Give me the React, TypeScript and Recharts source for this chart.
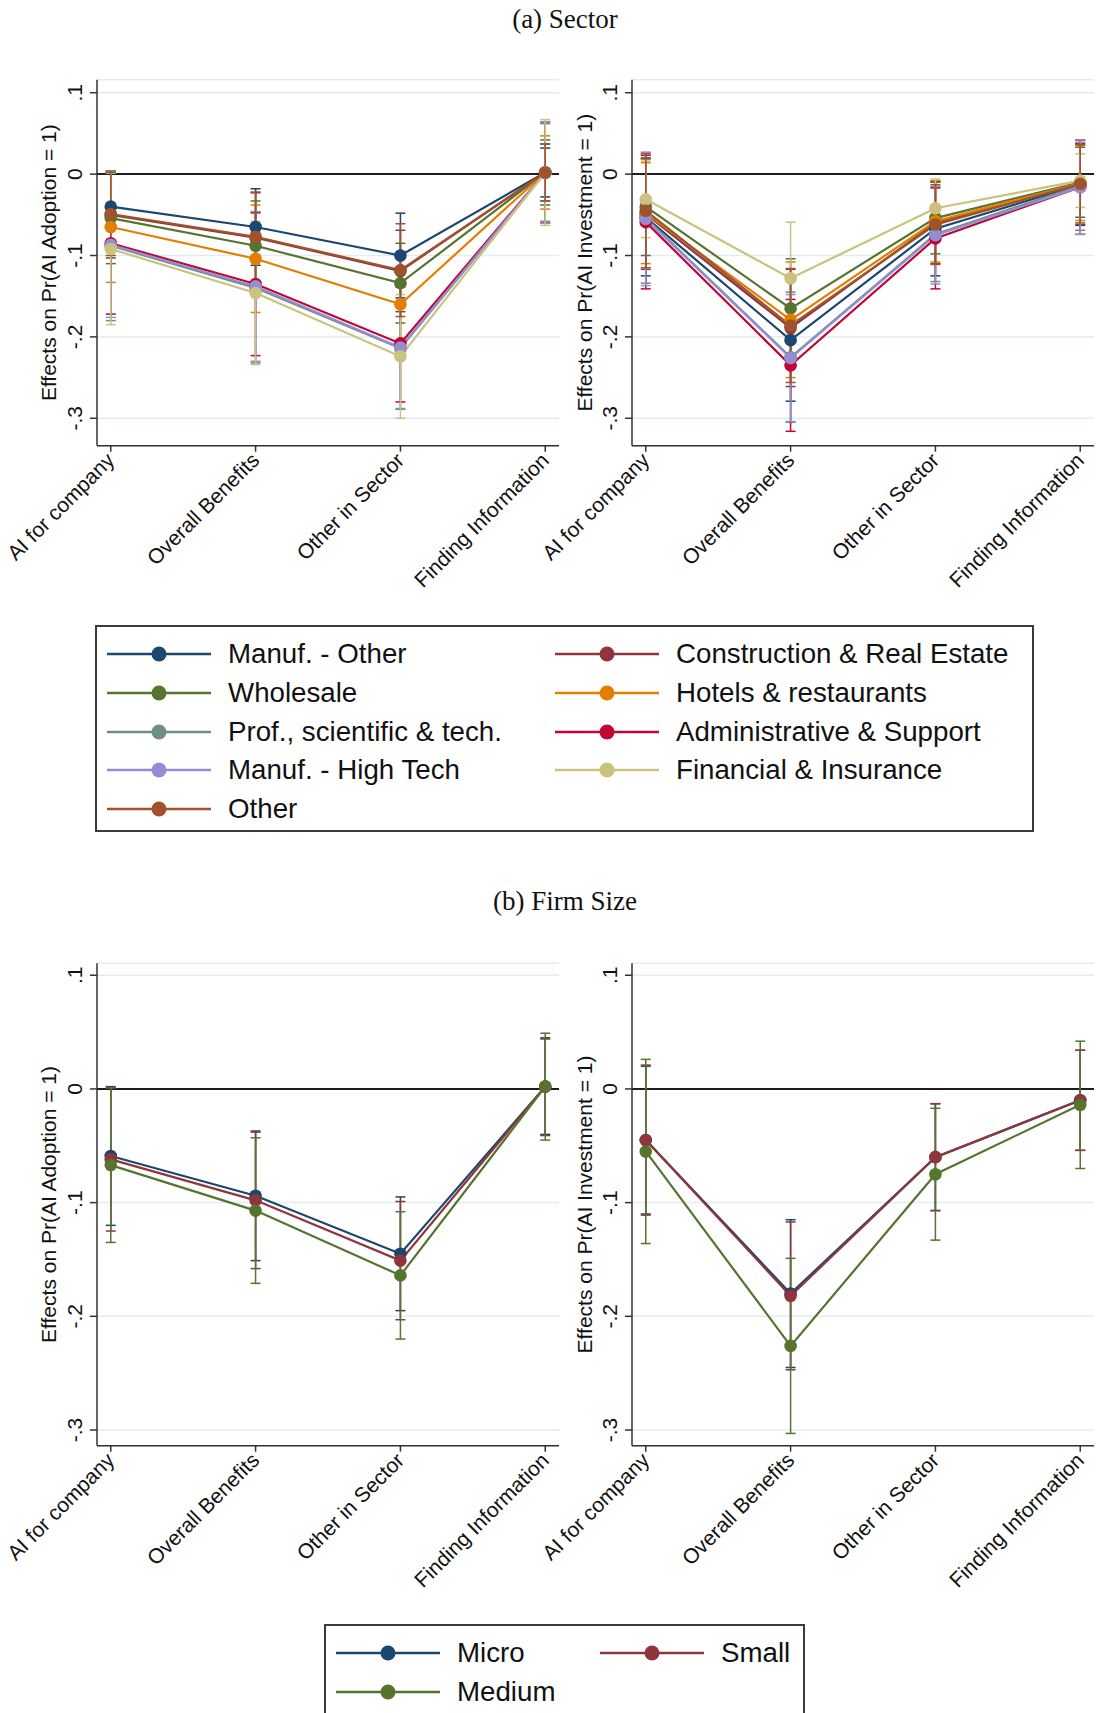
import {
  LineChart,
  Line,
  XAxis,
  YAxis,
  CartesianGrid,
  ReferenceLine,
  ErrorBar,
} from "recharts";

const CATEGORIES = [
  "AI for company",
  "Overall Benefits",
  "Other in Sector",
  "Finding Information",
];
const Y_TICKS = [-0.3, -0.2, -0.1, 0, 0.1];

// (a) Sector – legend names in Stata order
const SECTORS = [
  "Manuf. - Other",
  "Construction & Real Estate",
  "Wholesale",
  "Hotels & restaurants",
  "Prof., scientific & tech.",
  "Administrative & Support",
  "Manuf. - High Tech",
  "Financial & Insurance",
  "Other",
];

// point estimates and CI half-widths, Pr(AI Adoption = 1)
const adoptManufOther = [-0.04, -0.065, -0.1, 0.002];
const adoptManufOtherCI = [0.044, 0.047, 0.052, 0.03];
const adoptConstruction = [-0.05, -0.078, -0.119, 0.002];
const adoptConstructionCI = [0.053, 0.055, 0.05, 0.035];
const adoptWholesale = [-0.054, -0.088, -0.134, 0.002];
const adoptWholesaleCI = [0.056, 0.055, 0.049, 0.04];
const adoptHotels = [-0.065, -0.104, -0.16, 0.002];
const adoptHotelsCI = [0.068, 0.066, 0.06, 0.045];
const adoptProf = [-0.088, -0.14, -0.214, 0.002];
const adoptProfCI = [0.092, 0.092, 0.075, 0.06];
const adoptAdmin = [-0.085, -0.135, -0.208, 0.002];
const adoptAdminCI = [0.087, 0.088, 0.072, 0.062];
const adoptHighTech = [-0.087, -0.138, -0.213, 0.002];
const adoptHighTechCI = [0.089, 0.092, 0.075, 0.062];
const adoptFinancial = [-0.092, -0.146, -0.224, 0.002];
const adoptFinancialCI = [0.093, 0.088, 0.076, 0.065];
const adoptOther = [-0.049, -0.077, -0.118, 0.002];
const adoptOtherCI = [0.051, 0.055, 0.057, 0.035];

// Pr(AI Investment = 1)
const investManufOther = [-0.053, -0.204, -0.067, -0.013];
const investManufOtherCI = [0.072, 0.075, 0.058, 0.05];
const investConstruction = [-0.049, -0.189, -0.06, -0.012];
const investConstructionCI = [0.068, 0.072, 0.05, 0.05];
const investWholesale = [-0.04, -0.165, -0.054, -0.01];
const investWholesaleCI = [0.06, 0.061, 0.044, 0.043];
const investHotels = [-0.048, -0.179, -0.058, -0.011];
const investHotelsCI = [0.062, 0.071, 0.05, 0.046];
const investProf = [-0.054, -0.225, -0.074, -0.014];
const investProfCI = [0.08, 0.08, 0.058, 0.055];
const investAdmin = [-0.059, -0.235, -0.079, -0.016];
const investAdminCI = [0.082, 0.081, 0.062, 0.058];
const investHighTech = [-0.055, -0.226, -0.075, -0.016];
const investHighTechCI = [0.082, 0.078, 0.06, 0.058];
const investFinancial = [-0.031, -0.128, -0.042, -0.008];
const investFinancialCI = [0.047, 0.069, 0.036, 0.033];
const investOther = [-0.045, -0.186, -0.062, -0.012];
const investOtherCI = [0.07, 0.07, 0.049, 0.048];

// (b) Firm size
const SIZES = ["Micro", "Small", "Medium"];
const adoptMicro = [-0.059, -0.094, -0.145, 0.002];
const adoptMicroCI = [0.061, 0.057, 0.05, 0.042];
const adoptSmall = [-0.062, -0.098, -0.151, 0.002];
const adoptSmallCI = [0.063, 0.06, 0.052, 0.043];
const adoptMedium = [-0.067, -0.107, -0.164, 0.002];
const adoptMediumCI = [0.068, 0.064, 0.056, 0.047];
const investMicro = [-0.045, -0.18, -0.06, -0.01];
const investMicroCI = [0.065, 0.065, 0.047, 0.044];
const investSmall = [-0.045, -0.182, -0.06, -0.01];
const investSmallCI = [0.066, 0.065, 0.047, 0.044];
const investMedium = [-0.055, -0.226, -0.075, -0.014];
const investMediumCI = [0.081, 0.077, 0.058, 0.056];

// stata s2color palette
const PALETTE = [
  "#1a476f",
  "#90353b",
  "#55752f",
  "#e37e00",
  "#6e8e84",
  "#c10534",
  "#938dd2",
  "#cac27e",
  "#a0522d",
];

const SANS = "'Liberation Sans', Arial, sans-serif";
const SERIF = "'Liberation Serif', 'Times New Roman', serif";
const AXIS_FONT = 21;

type Series = { name: string; est: number[]; ci: number[] };

const sectorAdopt: Series[] = [
  [adoptManufOther, adoptManufOtherCI],
  [adoptConstruction, adoptConstructionCI],
  [adoptWholesale, adoptWholesaleCI],
  [adoptHotels, adoptHotelsCI],
  [adoptProf, adoptProfCI],
  [adoptAdmin, adoptAdminCI],
  [adoptHighTech, adoptHighTechCI],
  [adoptFinancial, adoptFinancialCI],
  [adoptOther, adoptOtherCI],
].map(([est, ci], i) => ({ name: SECTORS[i], est, ci }));

const sectorInvest: Series[] = [
  [investManufOther, investManufOtherCI],
  [investConstruction, investConstructionCI],
  [investWholesale, investWholesaleCI],
  [investHotels, investHotelsCI],
  [investProf, investProfCI],
  [investAdmin, investAdminCI],
  [investHighTech, investHighTechCI],
  [investFinancial, investFinancialCI],
  [investOther, investOtherCI],
].map(([est, ci], i) => ({ name: SECTORS[i], est, ci }));

const sizeAdopt: Series[] = [
  [adoptMicro, adoptMicroCI],
  [adoptSmall, adoptSmallCI],
  [adoptMedium, adoptMediumCI],
].map(([est, ci], i) => ({ name: SIZES[i], est, ci }));

const sizeInvest: Series[] = [
  [investMicro, investMicroCI],
  [investSmall, investSmallCI],
  [investMedium, investMediumCI],
].map(([est, ci], i) => ({ name: SIZES[i], est, ci }));

const fmtY = (v: number) => {
  if (Math.abs(v) < 1e-9) return "0";
  const s = Math.abs(v).toFixed(1).replace(/^0/, "");
  return v < 0 ? "-" + s : s;
};

const YTick = (props: any) => {
  const { x, y, payload } = props;
  const tx = x - 8;
  return (
    <text
      x={tx}
      y={y}
      transform={`rotate(-90 ${tx} ${y})`}
      textAnchor="middle"
      fontSize={AXIS_FONT}
      fontFamily={SANS}
      fill="#111"
    >
      {fmtY(payload.value)}
    </text>
  );
};

const XTick = (props: any) => {
  const { x, y, payload } = props;
  const ax = x + 5;
  const ay = y + 10;
  return (
    <text
      x={ax}
      y={ay}
      transform={`rotate(-45 ${ax} ${ay})`}
      textAnchor="end"
      fontSize={AXIS_FONT}
      fontFamily={SANS}
      fill="#111"
    >
      {CATEGORIES[payload.value]}
    </text>
  );
};

type PanelProps = {
  left: number;
  top: number;
  height: number;
  plotTop: number;
  plotHeight: number;
  axisWidth: number;
  domain: [number, number];
  yLabel: string;
  series: Series[];
};

const PLOT_W = 462;

function Panel({
  left,
  top,
  height,
  plotTop,
  plotHeight,
  axisWidth,
  domain,
  yLabel,
  series,
}: PanelProps) {
  const width = 568;
  const data = CATEGORIES.map((_, i) => {
    const row: Record<string, number> = { x: i };
    series.forEach((s, k) => {
      row["s" + k] = s.est[i];
      row["e" + k] = s.ci[i];
    });
    return row;
  });
  const mTop = plotTop - top;
  return (
    <div style={{ position: "absolute", left, top }}>
      <LineChart
        width={width}
        height={height}
        data={data}
        margin={{
          top: mTop,
          left: 0,
          right: width - axisWidth - PLOT_W,
          bottom: 0,
        }}
      >
        <CartesianGrid
          vertical={false}
          stroke="#e3ecef"
          strokeWidth={1.5}
        />
        <XAxis
          type="number"
          dataKey="x"
          domain={[-0.095, 3.095]}
          allowDataOverflow
          ticks={[0, 1, 2, 3]}
          interval={0}
          tick={<XTick />}
          tickSize={6}
          tickMargin={0}
          height={height - mTop - plotHeight}
          axisLine={{ stroke: "#333", strokeWidth: 1.5 }}
          tickLine={{ stroke: "#333", strokeWidth: 1.5 }}
        />
        <YAxis
          type="number"
          domain={domain}
          allowDataOverflow
          ticks={Y_TICKS}
          interval={0}
          width={axisWidth}
          tick={<YTick />}
          tickSize={7}
          tickMargin={0}
          axisLine={{ stroke: "#333", strokeWidth: 1.5 }}
          tickLine={{ stroke: "#333", strokeWidth: 1.5 }}
          label={{
            value: yLabel,
            angle: -90,
            position: "center",
            style: { fontSize: AXIS_FONT, fontFamily: SANS, fill: "#111" },
          }}
        />
        <ReferenceLine y={0} stroke="#1e1e1e" strokeWidth={2} />
        {series.map((s, k) => (
          <Line
            key={s.name}
            type="linear"
            dataKey={"s" + k}
            name={s.name}
            stroke={PALETTE[k]}
            strokeWidth={2.2}
            dot={{ r: 6.3, fill: PALETTE[k], stroke: PALETTE[k], strokeWidth: 0 }}
            activeDot={false}
            isAnimationActive={false}
          >
            <ErrorBar
              dataKey={"e" + k}
              direction="y"
              width={5}
              stroke={PALETTE[k]}
              strokeWidth={1.5}
            />
          </Line>
        ))}
      </LineChart>
    </div>
  );
}

type LegendItem = { name: string; color: string; col: number; row: number };

function Legend({
  left,
  top,
  width,
  height,
  items,
  colX,
}: {
  left: number;
  top: number;
  width: number;
  height: number;
  items: LegendItem[];
  colX: number[];
}) {
  return (
    <div
      style={{
        position: "absolute",
        left,
        top,
        width,
        height,
        border: "2px solid #3a3a3a",
        boxSizing: "border-box",
        background: "#fff",
      }}
    >
      {items.map((it) => (
        <div
          key={it.name}
          style={{
            position: "absolute",
            left: colX[it.col],
            top: 27 + it.row * 38.8 - 16,
            height: 32,
            display: "flex",
            alignItems: "center",
            whiteSpace: "nowrap",
          }}
        >
          <svg width={104} height={20} style={{ flex: "none" }}>
            <line x1={0} y1={10} x2={104} y2={10} stroke={it.color} strokeWidth={2.5} />
            <circle cx={52} cy={10} r={7.5} fill={it.color} />
          </svg>
          <span
            style={{
              marginLeft: 17,
              fontSize: 27.7,
              fontFamily: SANS,
              color: "#111",
            }}
          >
            {it.name}
          </span>
        </div>
      ))}
    </div>
  );
}

const TOP_DOMAIN: [number, number] = [-0.3337, 0.116];
const BOTTOM_DOMAIN: [number, number] = [-0.3138, 0.1105];

export default function App() {
  const sectorLegend = SECTORS.map((name, i) => ({
    name,
    color: PALETTE[i],
    col: i % 2,
    row: Math.floor(i / 2),
  }));
  const sizeLegend = SIZES.map((name, i) => ({
    name,
    color: PALETTE[i],
    col: i % 2,
    row: Math.floor(i / 2),
  }));
  return (
    <div
      style={{
        position: "relative",
        width: 1113,
        height: 1713,
        overflow: "hidden",
        background: "#fff",
      }}
    >
      <style>{"body{margin:0}"}</style>
      <div
        style={{
          position: "absolute",
          left: 0,
          width: 1130,
          top: 6,
          textAlign: "center",
          fontFamily: SERIF,
          fontSize: 27,
          lineHeight: "27px",
          color: "#111",
        }}
      >
        (a) Sector
      </div>
      <Panel
        left={0}
        top={55}
        height={565}
        plotTop={79.7}
        plotHeight={366}
        axisWidth={97}
        domain={TOP_DOMAIN}
        yLabel="Effects on Pr(AI Adoption = 1)"
        series={sectorAdopt}
      />
      <Panel
        left={538}
        top={55}
        height={565}
        plotTop={79.7}
        plotHeight={366}
        axisWidth={94}
        domain={TOP_DOMAIN}
        yLabel="Effects on Pr(AI Investment = 1)"
        series={sectorInvest}
      />
      <Legend
        left={95}
        top={625}
        width={939}
        height={207}
        items={sectorLegend}
        colX={[10, 458]}
      />
      <div
        style={{
          position: "absolute",
          left: 0,
          width: 1130,
          top: 888,
          textAlign: "center",
          fontFamily: SERIF,
          fontSize: 27,
          lineHeight: "27px",
          color: "#111",
        }}
      >
        (b) Firm Size
      </div>
      <Panel
        left={0}
        top={935}
        height={680}
        plotTop={963.3}
        plotHeight={482.4}
        axisWidth={97}
        domain={BOTTOM_DOMAIN}
        yLabel="Effects on Pr(AI Adoption = 1)"
        series={sizeAdopt}
      />
      <Panel
        left={538}
        top={935}
        height={680}
        plotTop={963.3}
        plotHeight={482.4}
        axisWidth={94}
        domain={BOTTOM_DOMAIN}
        yLabel="Effects on Pr(AI Investment = 1)"
        series={sizeInvest}
      />
      <Legend
        left={324}
        top={1624}
        width={481}
        height={130}
        items={sizeLegend}
        colX={[10, 274]}
      />
    </div>
  );
}
